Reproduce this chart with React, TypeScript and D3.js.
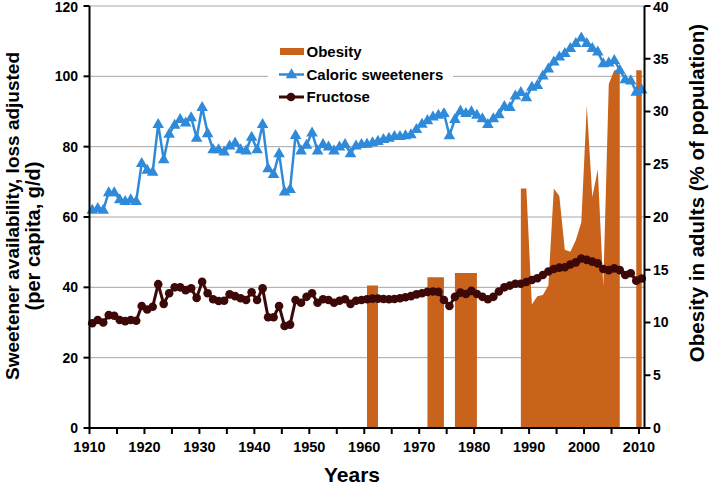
import React from "react";
import * as d3 from "d3";

const START_YEAR = 1910;

// Caloric sweeteners (g/d), 1910–2010
const sweeteners = [
  62, 62.5, 62, 67, 67, 65, 64.5, 65, 64.5, 75.3,
  73.4, 72.8, 86.4, 76.4, 83.6, 86.2, 87.8, 86.8, 88.3, 82.5,
  91.2, 83.8, 79.2, 79.2, 78.6, 80.3, 81.1, 79.2, 78.9, 82.8,
  79.2, 86.4, 73.8, 72.2, 78.1, 67.2, 67.9, 83.3, 78.9, 80.5,
  84, 78.9, 80.7, 80, 78.9, 80, 80.7, 78.1, 80.3, 80.7,
  80.8, 81.2, 81.6, 82.1, 82.5, 83, 83, 83.2, 83.5, 85,
  86.5, 87.5, 88.5, 89, 89.5, 83.2, 87.8, 90.2, 89.5, 90,
  89, 88, 86.4, 88, 89.2, 91.5, 91.2, 94.5, 95.5, 94,
  97, 97.5, 100.2, 102.2, 104.2, 105.6, 106.6, 108, 109.4, 111,
  109.4, 108, 107, 103.7, 103.9, 104.6, 101.8, 99.1, 98.8, 95.6,
  96.2,
];

// Fructose (g/d), 1910–2010
const fructose = [
  29.8, 30.7, 30, 32.1, 31.9, 30.7, 30.4, 30.7, 30.5, 34.7,
  33.7, 34.5, 40.9, 35.3, 38.3, 40, 40, 39.2, 39.7, 37,
  41.6, 38.3, 36.6, 36.1, 36.2, 38, 37.5, 36.9, 36.4, 38.6,
  36.4, 39.7, 31.5, 31.5, 34.7, 29, 29.4, 36.4, 35.6, 37.3,
  38.3, 35.6, 36.6, 36.4, 35.6, 36.2, 36.6, 35.3, 36.2, 36.4,
  36.6, 36.8, 36.8, 36.7, 36.6, 36.7, 36.9, 37.2, 37.5, 38,
  38.3, 38.7, 38.8, 38.7, 36.4, 34.7, 37.3, 38.5, 38.1, 39,
  38.1, 37.3, 36.6, 37.3, 38.8, 40, 40.5, 41, 41, 41.5,
  42.1, 42.6, 43.5, 44.5, 45.2, 45.6, 45.7, 46.5, 47.1, 48.2,
  47.8, 47.3, 46.8, 45.2, 44.9, 45.4, 44.9, 43.5, 44, 41.9,
  42.5,
];

// Obesity in adults (%), years with data
const obesityYears = [
  1960, 1961, 1962,
  1971, 1972, 1973, 1974,
  1976, 1977, 1978, 1979, 1980,
  1988, 1989, 1990, 1991, 1992, 1993, 1994, 1995, 1996, 1997,
  1998, 1999, 2000, 2001, 2002, 2003, 2004, 2005, 2006,
  2009, 2010,
];
const obesityValues = [
  13.5, 13.5, 13.5,
  14.3, 14.3, 14.3, 14.3,
  14.7, 14.7, 14.7, 14.7, 14.7,
  22.7, 22.7, 11.7, 12.5, 12.6, 13.5, 22.7, 22.0, 16.9, 16.7,
  17.8, 19.5, 30.6, 21.9, 24.5, 13.4, 32.6, 33.9, 33.9,
  33.9, 33.9,
];

const leftTicks = [0, 20, 40, 60, 80, 100, 120];
const rightTicks = [0, 5, 10, 15, 20, 25, 30, 35, 40];
const xTickYears = [1910, 1915, 1920, 1925, 1930, 1935, 1940, 1945, 1950, 1955, 1960, 1965, 1970, 1975, 1980, 1985, 1990, 1995, 2000, 2005, 2010];
const xLabelYears = [1910, 1920, 1930, 1940, 1950, 1960, 1970, 1980, 1990, 2000, 2010];

const legendItems = ["Obesity", "Caloric sweeteners", "Fructose"];

const W = 711;
const H = 486;
const M = { left: 89.5, right: 644.5, top: 6, bottom: 428 };

const BLUE = "#2f8ad9";
const ORANGE = "#c9621b";
const BROWN = "#3d0808";
const FONT = "'Liberation Sans', Arial, Helvetica, sans-serif";

export default function App() {
  const x = d3.scaleLinear().domain([1910, 2011]).range([M.left, M.right]);
  const yL = d3.scaleLinear().domain([0, 120]).range([M.bottom, M.top]);
  const yR = d3.scaleLinear().domain([0, 40]).range([M.bottom, M.top]);
  const cx = (yr: number) => x(yr + 0.5);

  const years = sweeteners.map((_, i) => START_YEAR + i);

  // group obesity into contiguous runs
  const runs: { year: number; v: number }[][] = [];
  obesityYears.forEach((yr, i) => {
    const last = runs[runs.length - 1];
    if (last && last[last.length - 1].year === yr - 1) last.push({ year: yr, v: obesityValues[i] });
    else runs.push([{ year: yr, v: obesityValues[i] }]);
  });

  const area = d3
    .area<{ year: number; v: number }>()
    .x((d) => cx(d.year))
    .y0(yR(0))
    .y1((d) => yR(d.v));

  const line = d3
    .line<number>()
    .x((_, i) => cx(years[i]))
    .y((d) => yL(d));

  const tri = d3.symbol().type(d3.symbolTriangle).size(58)();

  const legendX = 279;
  const legendRowY = [51.5, 74.5, 97];

  return (
    <svg
      width={W}
      height={H}
      style={{ position: "absolute", left: 0, top: 0, background: "#fff" }}
      fontFamily={FONT}
    >
      {/* gridlines */}
      {leftTicks.map((t) => (
        <line key={"g" + t} x1={M.left} x2={M.right} y1={yL(t)} y2={yL(t)} stroke="#a6a6a6" strokeWidth={1} />
      ))}

      {/* obesity areas */}
      {runs.map((r, i) => (
        <path key={"o" + i} d={area(r) || ""} fill={ORANGE} />
      ))}

      {/* caloric sweeteners */}
      <path d={line(sweeteners) || ""} fill="none" stroke={BLUE} strokeWidth={2.5} strokeLinejoin="round" />
      {sweeteners.map((v, i) => (
        <path key={"t" + i} d={tri} transform={`translate(${cx(years[i])},${yL(v) + 0.5})`} fill={BLUE} />
      ))}

      {/* fructose */}
      <path d={line(fructose) || ""} fill="none" stroke={BROWN} strokeWidth={3} strokeLinejoin="round" />
      {fructose.map((v, i) => (
        <circle key={"c" + i} cx={cx(years[i])} cy={yL(v)} r={4.3} fill={BROWN} />
      ))}

      {/* legend */}
      <rect x={268} y={38} width={185} height={70} fill="#fff" />
      <rect x={legendX + 1} y={legendRowY[0] - 3.5} width={24} height={7} fill={ORANGE} />
      <line x1={legendX} x2={legendX + 25} y1={legendRowY[1]} y2={legendRowY[1]} stroke={BLUE} strokeWidth={2.5} />
      <path d={tri} transform={`translate(${legendX + 12.5},${legendRowY[1] + 0.5})`} fill={BLUE} />
      <line x1={legendX} x2={legendX + 25} y1={legendRowY[2]} y2={legendRowY[2]} stroke={BROWN} strokeWidth={3} />
      <circle cx={legendX + 12} cy={legendRowY[2]} r={4.3} fill={BROWN} />
      {legendItems.map((t, i) => (
        <text key={t} x={306.5} y={legendRowY[i]} dy="0.36em" fontSize={15} fontWeight="bold" fill="#000">
          {t}
        </text>
      ))}

      {/* axes */}
      <line x1={M.left} x2={M.left} y1={M.top} y2={M.bottom + 1} stroke="#000" strokeWidth={2} />
      <line x1={M.right} x2={M.right} y1={M.top} y2={M.bottom + 1} stroke="#000" strokeWidth={2} />
      <line x1={M.left - 1} x2={M.right + 1} y1={M.bottom} y2={M.bottom} stroke="#000" strokeWidth={2} />

      {leftTicks.map((t) => (
        <g key={"l" + t}>
          <line x1={M.left - 6} x2={M.left} y1={yL(t)} y2={yL(t)} stroke="#000" strokeWidth={2} />
          <text x={78} y={Math.max(yL(t), 7.5)} dy="0.35em" textAnchor="end" fontSize={14} fontWeight="bold">
            {t}
          </text>
        </g>
      ))}
      {rightTicks.map((t) => (
        <g key={"r" + t}>
          <line x1={M.right} x2={M.right + 6} y1={yR(t)} y2={yR(t)} stroke="#000" strokeWidth={2} />
          <text x={653} y={Math.max(yR(t), 7.5)} dy="0.35em" textAnchor="start" fontSize={14} fontWeight="bold">
            {t}
          </text>
        </g>
      ))}
      {xTickYears.map((t) => (
        <line key={"x" + t} x1={x(t)} x2={x(t)} y1={M.bottom} y2={M.bottom + 6} stroke="#000" strokeWidth={2} />
      ))}
      {xLabelYears.map((t) => (
        <text key={"xl" + t} x={x(t)} y={447} dy="0.36em" textAnchor="middle" fontSize={14.5} fontWeight="bold">
          {t}
        </text>
      ))}

      {/* axis titles */}
      <text x={352} y={474} dy="0.36em" textAnchor="middle" fontSize={21} fontWeight="bold">
        Years
      </text>
      <text transform="translate(12,216) rotate(-90)" dy="0.36em" textAnchor="middle" fontSize={19} fontWeight="bold">
        Sweetener availability, loss adjusted
      </text>
      <text transform="translate(33,236) rotate(-90)" dy="0.36em" textAnchor="middle" fontSize={20} fontWeight="bold">
        (per capita, g/d)
      </text>
      <text transform="translate(697,193) rotate(-90)" dy="0.36em" textAnchor="middle" fontSize={20.5} fontWeight="bold">
        Obesity in adults (% of population)
      </text>
    </svg>
  );
}
